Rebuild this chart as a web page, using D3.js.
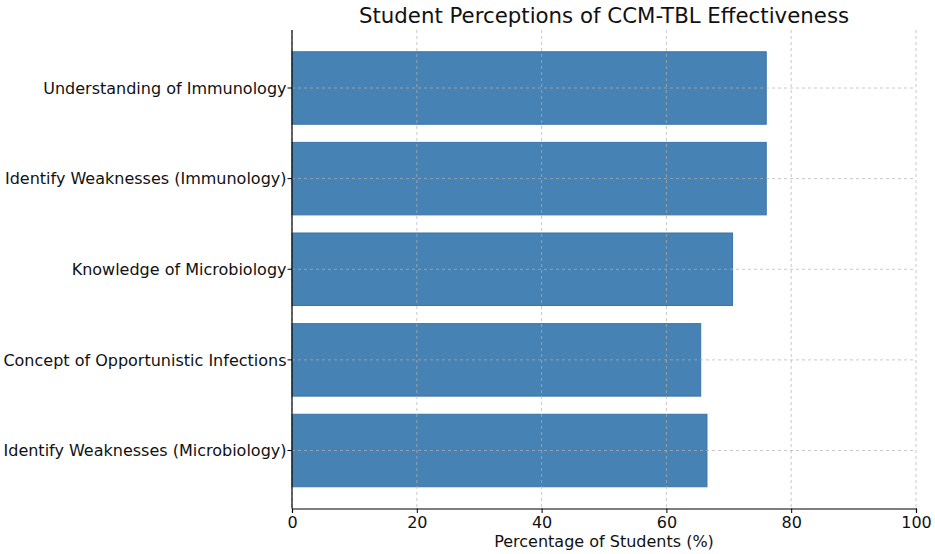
<!DOCTYPE html>
<html>
<head>
<meta charset="utf-8">
<script src="https://cdn.jsdelivr.net/npm/d3@7"></script>
<style>
  body { margin: 0; background: #fff; }
  text { font-family: "DejaVu Sans", sans-serif; fill: #000; }
</style>
</head>
<body>
<div id="chart"></div>
<script>
const categories = [
  "Understanding of Immunology",
  "Identify Weaknesses (Immunology)",
  "Knowledge of Microbiology",
  "Concept of Opportunistic Infections",
  "Identify Weaknesses (Microbiology)"
];
const percentages = [76, 76, 70.6, 65.5, 66.5];
const xTicks = [0, 20, 40, 60, 80, 100];

const width = 935, height = 554;
const margin = { left: 292, right: 19, top: 30, bottom: 45.5 };
const plotW = width - margin.left - margin.right;
const plotH = height - margin.top - margin.bottom;

const svg = d3.select("#chart")
    .append("svg")
    .attr("width", width)
    .attr("height", height);

const g = svg.append("g")
    .attr("transform", `translate(${margin.left}, ${margin.top})`);

//X-Scale
const x = d3.scaleLinear()
    .domain([0, 100])
    .range([0, plotW]);

//Y-Scale (matplotlib style: bar height 0.8, 5% margins)
const yPos = d3.scaleLinear()
    .domain([-0.64, categories.length - 1 + 0.64])
    .range([0, plotH]);
const barH = yPos(0.4) - yPos(-0.4);

// Draw Bars
g.selectAll("rect.bar")
    .data(categories)
    .join("rect")
    .attr("class", "bar")
    .attr("x", x(0))
    .attr("y", (d, i) => yPos(i) - barH / 2)
    .attr("width", (d, i) => x(percentages[i]) - x(0))
    .attr("height", barH)
    .attr("fill", "#4682b4")
    .attr("stroke", "#3a75a8")
    .attr("stroke-width", 1);

// Grid lines
g.selectAll("line.vgrid")
    .data(xTicks)
    .join("line")
    .attr("class", "vgrid")
    .attr("x1", d => x(d)).attr("x2", d => x(d))
    .attr("y1", 0).attr("y2", plotH)
    .attr("stroke", "#b0b0b0")
    .attr("stroke-opacity", 0.7)
    .attr("stroke-dasharray", "3,3")
    .attr("stroke-width", 1);

g.selectAll("line.hgrid")
    .data(categories)
    .join("line")
    .attr("class", "hgrid")
    .attr("x1", 0).attr("x2", plotW)
    .attr("y1", (d, i) => yPos(i)).attr("y2", (d, i) => yPos(i))
    .attr("stroke", "#b0b0b0")
    .attr("stroke-opacity", 0.7)
    .attr("stroke-dasharray", "3,3")
    .attr("stroke-width", 1);

// Adding X-axis
const xAxis = g.append("g")
    .attr("transform", `translate(0, ${plotH})`)
    .call(d3.axisBottom(x).tickValues(xTicks).tickSize(4.5).tickPadding(4));
xAxis.select(".domain").attr("stroke", "#000").attr("stroke-width", 1.2);
xAxis.selectAll(".tick line").attr("stroke", "#000").attr("stroke-width", 1);
xAxis.selectAll("text").style("font-size", "16px").style("fill", "#111");

// Adding Y-axis
const yAxis = g.append("g");
yAxis.append("line")
    .attr("x1", 0).attr("x2", 0)
    .attr("y1", 0).attr("y2", plotH)
    .attr("stroke", "#000").attr("stroke-width", 1.2);
yAxis.selectAll("line.ytick")
    .data(categories)
    .join("line")
    .attr("class", "ytick")
    .attr("x1", -4.5).attr("x2", 0)
    .attr("y1", (d, i) => yPos(i)).attr("y2", (d, i) => yPos(i))
    .attr("stroke", "#000");
yAxis.selectAll("text.ylab")
    .data(categories)
    .join("text")
    .attr("class", "ylab")
    .attr("x", -5.5)
    .attr("y", (d, i) => yPos(i))
    .attr("dy", "0.36em")
    .attr("text-anchor", "end")
    .style("font-size", "16px")
    .style("fill", "#111")
    .text(d => d);

// Axis label
g.append("text")
    .attr("x", plotW / 2)
    .attr("y", plotH + 38.5)
    .attr("text-anchor", "middle")
    .style("font-size", "16px")
    .style("fill", "#111")
    .text("Percentage of Students (%)");

// Adding title
g.append("text")
    .attr("x", plotW / 2)
    .attr("y", -7.5)
    .attr("text-anchor", "middle")
    .style("font-size", "21.3px")
    .style("fill", "#111")
    .text("Student Perceptions of CCM-TBL Effectiveness");
</script>
</body>
</html>
